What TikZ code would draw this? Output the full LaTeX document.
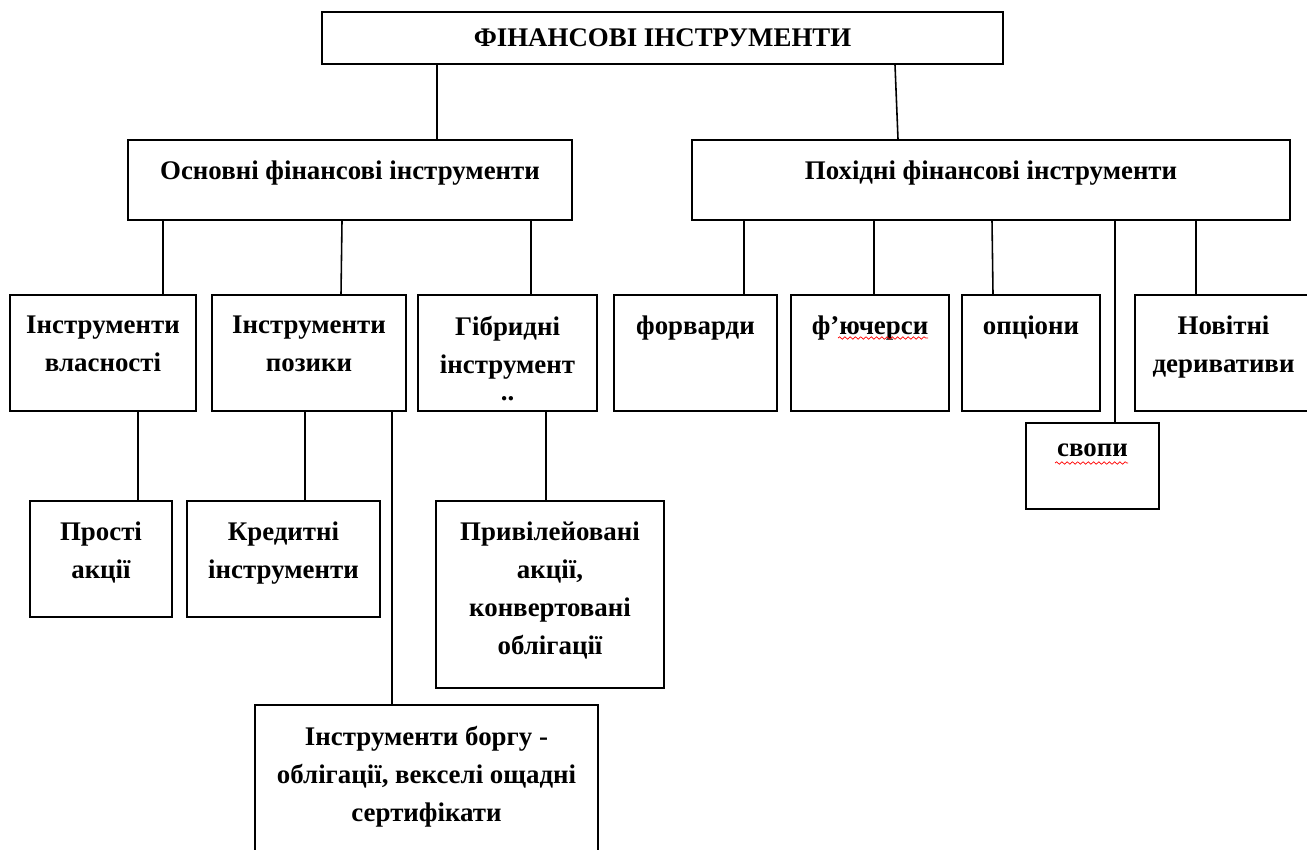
\documentclass[tikz,border=0pt]{standalone}
\usepackage{fontspec}
\setmainfont{Liberation Serif}
\usetikzlibrary{fit,decorations.pathmorphing}

\tikzset{
  box/.style={draw, line width=1pt, inner sep=0pt},
  txt/.style={anchor=north, yshift=-12.3pt, align=center, inner sep=0pt,
    font=\bfseries\fontsize{15.3}{21.6}\selectfont},
  title/.style={anchor=center, inner sep=0pt,
    font=\bfseries\fontsize{15.3}{21.6}\selectfont},
  link/.style={line width=0.9pt},
  spell/.style={red, line width=0.4pt, decorate,
    decoration={snake, amplitude=0.7pt, segment length=3pt}}
}

\begin{document}
\begin{tikzpicture}[x=0.02cm, y=-0.02cm]
    % Межі малюнка (у пікселях оригіналу).
    \useasboundingbox (0,0) rectangle (1307,849);

    % Верхній рівень.
    \node[box, fit={(322,12) (1003,64)}, label={[title]center:ФІНАНСОВІ ІНСТРУМЕНТИ}] (fin) {};

    % Основні та похідні інструменти.
    \node[box, fit={(128,140) (572,220)}, label={[txt]north:Основні фінансові інструменти}] (osn) {};
    \node[box, fit={(692,140) (1290,220)}, label={[txt]north:Похідні фінансові інструменти}] (pokh) {};

    % Третій рівень, ліва гілка.
    \node[box, fit={(10,295) (196,411)}, label={[txt]north:Інструменти\\власності}] (vlasn) {};
    \node[box, fit={(212,295) (406,411)}, label={[txt]north:Інструменти\\позики}] (pozyk) {};
    \node[box, fit={(418,295) (597,411)}, label={[txt]north:Гібридні\\інструмент\\[-6pt]..}] (hibr) {};

    % Третій рівень, права гілка.
    \node[box, fit={(614,295) (777,411)}, label={[txt]north:форварди}] (forw) {};
    \node[box, fit={(791,295) (949,411)}, label={[txt]north:ф’ючерси}] (fut) {};
    \node[box, fit={(962,295) (1100,411)}, label={[txt]north:опціони}] (opc) {};
    \node[box, fit={(1135,295) (1312,411)}, label={[txt]north:Новітні\\деривативи}] (nov) {};
    \node[box, fit={(1026,423) (1159,509)}, label={[txt]north:свопи}] (svop) {};

    % Четвертий рівень.
    \node[box, fit={(30,501) (172,617)}, label={[txt]north:Прості\\акції}] (prost) {};
    \node[box, fit={(187,501) (380,617)}, label={[txt]north:Кредитні\\інструменти}] (kred) {};
    \node[box, fit={(436,501) (664,688)}, label={[txt]north:Привілейовані\\акції,\\конвертовані\\облігації}] (pryv) {};
    \node[box, fit={(255,705) (598,880)}, label={[txt]north:Інструменти боргу -\\облігації, векселі ощадні\\сертифікати}] (borg) {};

    % З'єднувальні лінії.
    \draw[link] (437,0 |- fin.south) -- (437,0 |- osn.north);
    \draw[link] (895,0 |- fin.south) -- (898,0 |- pokh.north);
    \draw[link] (163,0 |- osn.south) -- (163,0 |- vlasn.north);
    \draw[link] (342,0 |- osn.south) -- (341,0 |- pozyk.north);
    \draw[link] (531,0 |- osn.south) -- (531,0 |- hibr.north);
    \draw[link] (744,0 |- pokh.south) -- (744,0 |- forw.north);
    \draw[link] (874,0 |- pokh.south) -- (874,0 |- fut.north);
    \draw[link] (992,0 |- pokh.south) -- (993,0 |- opc.north);
    \draw[link] (1115,0 |- pokh.south) -- (1115,0 |- svop.north);
    \draw[link] (1196,0 |- pokh.south) -- (1196,0 |- nov.north);
    \draw[link] (138,0 |- vlasn.south) -- (138,0 |- prost.north);
    \draw[link] (305,0 |- pozyk.south) -- (305,0 |- kred.north);
    \draw[link] (392,0 |- pozyk.south) -- (392,0 |- borg.north);
    \draw[link] (546,0 |- hibr.south) -- (546,0 |- pryv.north);

    % Підкреслення перевірки правопису.
    \draw[spell] (838,338) -- (928,338);
    \draw[spell] (1055,463) -- (1128,463);
\end{tikzpicture}
\end{document}
